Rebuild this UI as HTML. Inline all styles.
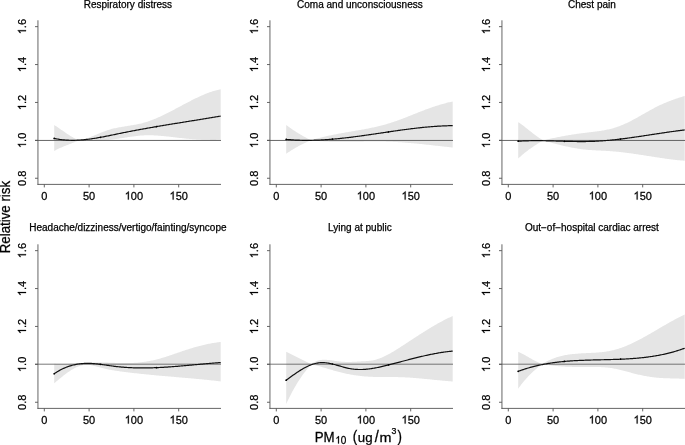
<!DOCTYPE html><html><head><meta charset="utf-8"><style>html,body{margin:0;padding:0;background:#fff;width:685px;height:445px;overflow:hidden}svg{display:block;will-change:transform}text{font-family:"Liberation Sans",sans-serif;fill:#000;stroke:#000;stroke-width:0.25px}</style></head><body>
<svg width="685" height="445" viewBox="0 0 685 445">
<rect width="685" height="445" fill="#fff"/>
<path d="M54.20,125.00 L54.20,125.00 L55.24,125.66 L56.28,126.33 L57.31,127.02 L58.35,127.72 L59.39,128.43 L60.42,129.15 L61.46,129.88 L62.50,130.60 L63.54,131.33 L64.58,132.05 L65.61,132.76 L66.65,133.47 L67.69,134.16 L68.72,134.84 L69.76,135.50 L70.80,136.14 L71.84,136.76 L72.88,137.35 L73.91,137.91 L74.95,138.44 L75.99,138.94 L77.02,139.40 L78.06,139.82 L79.10,140.20 L79.10,140.41 L80.10,140.22 L81.11,140.01 L82.11,139.78 L83.12,139.52 L84.12,139.23 L85.13,138.93 L86.13,138.61 L87.13,138.26 L88.14,137.91 L89.14,137.54 L90.15,137.15 L91.15,136.76 L92.16,136.36 L93.16,135.94 L94.16,135.53 L95.17,135.11 L96.17,134.68 L97.18,134.26 L98.18,133.83 L99.19,133.41 L100.19,132.99 L101.19,132.58 L102.20,132.18 L103.20,131.78 L104.21,131.39 L105.21,131.02 L106.21,130.66 L107.22,130.32 L108.22,129.99 L109.23,129.69 L110.23,129.39 L111.24,129.12 L112.24,128.85 L113.24,128.60 L114.25,128.36 L115.25,128.14 L116.26,127.92 L117.26,127.72 L118.27,127.52 L119.27,127.33 L120.27,127.15 L121.28,126.98 L122.28,126.81 L123.29,126.64 L124.29,126.48 L125.30,126.32 L126.30,126.16 L127.30,126.00 L128.31,125.85 L129.31,125.69 L130.32,125.53 L131.32,125.37 L132.33,125.20 L133.33,125.03 L134.33,124.85 L135.34,124.67 L136.34,124.48 L137.35,124.28 L138.35,124.07 L139.36,123.86 L140.36,123.63 L141.36,123.39 L142.37,123.14 L143.37,122.87 L144.38,122.59 L145.38,122.29 L146.39,121.99 L147.39,121.66 L148.39,121.33 L149.40,120.98 L150.40,120.62 L151.41,120.25 L152.41,119.87 L153.41,119.48 L154.42,119.07 L155.42,118.66 L156.43,118.23 L157.43,117.80 L158.44,117.36 L159.44,116.91 L160.44,116.45 L161.45,115.98 L162.45,115.51 L163.46,115.02 L164.46,114.54 L165.47,114.04 L166.47,113.54 L167.47,113.04 L168.48,112.53 L169.48,112.01 L170.49,111.50 L171.49,110.97 L172.50,110.45 L173.50,109.92 L174.50,109.39 L175.51,108.85 L176.51,108.32 L177.52,107.78 L178.52,107.25 L179.53,106.71 L180.53,106.17 L181.53,105.63 L182.54,105.10 L183.54,104.56 L184.55,104.03 L185.55,103.49 L186.56,102.96 L187.56,102.44 L188.56,101.91 L189.57,101.39 L190.57,100.88 L191.58,100.36 L192.58,99.86 L193.59,99.35 L194.59,98.86 L195.59,98.37 L196.60,97.88 L197.60,97.40 L198.61,96.93 L199.61,96.47 L200.61,96.01 L201.62,95.57 L202.62,95.13 L203.63,94.70 L204.63,94.28 L205.64,93.87 L206.64,93.47 L207.64,93.08 L208.65,92.70 L209.65,92.34 L210.66,91.99 L211.66,91.64 L212.67,91.31 L213.67,91.00 L214.67,90.70 L215.68,90.41 L216.68,90.14 L217.69,89.88 L218.69,89.63 L219.70,89.41 L220.70,89.19 L220.70,139.90 L220.70,139.79 L219.70,139.81 L218.69,139.84 L217.69,139.85 L216.68,139.87 L215.68,139.88 L214.67,139.89 L213.67,139.89 L212.67,139.89 L211.66,139.89 L210.66,139.88 L209.65,139.87 L208.65,139.85 L207.64,139.84 L206.64,139.81 L205.64,139.79 L204.63,139.76 L203.63,139.73 L202.62,139.69 L201.62,139.65 L200.61,139.61 L199.61,139.56 L198.61,139.51 L197.60,139.46 L196.60,139.40 L195.59,139.34 L194.59,139.27 L193.59,139.21 L192.58,139.13 L191.58,139.06 L190.57,138.98 L189.57,138.90 L188.56,138.81 L187.56,138.72 L186.56,138.63 L185.55,138.54 L184.55,138.44 L183.54,138.33 L182.54,138.23 L181.53,138.12 L180.53,138.01 L179.53,137.90 L178.52,137.78 L177.52,137.66 L176.51,137.55 L175.51,137.43 L174.50,137.31 L173.50,137.19 L172.50,137.07 L171.49,136.95 L170.49,136.84 L169.48,136.72 L168.48,136.61 L167.47,136.50 L166.47,136.39 L165.47,136.28 L164.46,136.18 L163.46,136.08 L162.45,135.99 L161.45,135.89 L160.44,135.81 L159.44,135.73 L158.44,135.65 L157.43,135.58 L156.43,135.52 L155.42,135.46 L154.42,135.41 L153.41,135.37 L152.41,135.33 L151.41,135.30 L150.40,135.28 L149.40,135.27 L148.39,135.27 L147.39,135.27 L146.39,135.29 L145.38,135.32 L144.38,135.35 L143.37,135.40 L142.37,135.46 L141.36,135.53 L140.36,135.61 L139.36,135.70 L138.35,135.79 L137.35,135.90 L136.34,136.01 L135.34,136.13 L134.33,136.25 L133.33,136.39 L132.33,136.52 L131.32,136.66 L130.32,136.81 L129.31,136.96 L128.31,137.11 L127.30,137.27 L126.30,137.42 L125.30,137.58 L124.29,137.74 L123.29,137.90 L122.28,138.06 L121.28,138.21 L120.27,138.37 L119.27,138.52 L118.27,138.67 L117.26,138.82 L116.26,138.97 L115.25,139.11 L114.25,139.24 L113.24,139.37 L112.24,139.49 L111.24,139.61 L110.23,139.72 L109.23,139.83 L108.22,139.93 L107.22,140.02 L106.21,140.11 L105.21,140.19 L104.21,140.27 L103.20,140.34 L102.20,140.40 L101.19,140.46 L100.19,140.51 L99.19,140.55 L98.18,140.59 L97.18,140.62 L96.17,140.65 L95.17,140.67 L94.16,140.68 L93.16,140.68 L92.16,140.68 L91.15,140.67 L90.15,140.66 L89.14,140.63 L88.14,140.60 L87.13,140.57 L86.13,140.52 L85.13,140.47 L84.12,140.41 L83.12,140.35 L82.11,140.27 L81.11,140.19 L80.10,140.10 L79.10,140.01 L79.10,140.19 L78.06,140.67 L77.02,141.14 L75.99,141.59 L74.95,142.03 L73.91,142.46 L72.88,142.87 L71.84,143.28 L70.80,143.68 L69.76,144.08 L68.72,144.48 L67.69,144.88 L66.65,145.28 L65.61,145.68 L64.58,146.09 L63.54,146.51 L62.50,146.94 L61.46,147.38 L60.42,147.84 L59.39,148.31 L58.35,148.80 L57.31,149.31 L56.28,149.85 L55.24,150.40 L54.20,150.99 Z" fill="#e5e5e5"/>
<line x1="35.00" y1="140.45" x2="221.00" y2="140.45" stroke="#555" stroke-width="0.9"/>
<line x1="37.94" y1="20.30" x2="37.94" y2="184.85" stroke="#555" stroke-width="0.9"/>
<line x1="37.50" y1="184.40" x2="221.00" y2="184.40" stroke="#555" stroke-width="0.9"/>
<line x1="35.00" y1="178.25" x2="37.94" y2="178.25" stroke="#555" stroke-width="0.9"/>
<g transform="translate(26.00 178.25) rotate(-90) scale(1 1.040)"><text x="-7.65" y="0" font-size="11">0.8</text></g>
<line x1="35.00" y1="140.35" x2="37.94" y2="140.35" stroke="#555" stroke-width="0.9"/>
<g transform="translate(26.00 140.35) rotate(-90) scale(1 1.040)"><text x="-7.65" y="0" font-size="11"> .0</text><path d="M763 0H583V1147C540 1106 483 1065 413 1024C342 983 279 952 223 931V1105C324 1152 412 1210 487 1277C562 1344 615 1409 646 1472H763V0Z" transform="translate(-7.65 0) scale(0.00537 -0.00537)" fill="#000" stroke="#000" stroke-width="46.5"/></g>
<line x1="35.00" y1="102.45" x2="37.94" y2="102.45" stroke="#555" stroke-width="0.9"/>
<g transform="translate(26.00 102.45) rotate(-90) scale(1 1.040)"><text x="-7.65" y="0" font-size="11"> .2</text><path d="M763 0H583V1147C540 1106 483 1065 413 1024C342 983 279 952 223 931V1105C324 1152 412 1210 487 1277C562 1344 615 1409 646 1472H763V0Z" transform="translate(-7.65 0) scale(0.00537 -0.00537)" fill="#000" stroke="#000" stroke-width="46.5"/></g>
<line x1="35.00" y1="64.55" x2="37.94" y2="64.55" stroke="#555" stroke-width="0.9"/>
<g transform="translate(26.00 64.55) rotate(-90) scale(1 1.040)"><text x="-7.65" y="0" font-size="11"> .4</text><path d="M763 0H583V1147C540 1106 483 1065 413 1024C342 983 279 952 223 931V1105C324 1152 412 1210 487 1277C562 1344 615 1409 646 1472H763V0Z" transform="translate(-7.65 0) scale(0.00537 -0.00537)" fill="#000" stroke="#000" stroke-width="46.5"/></g>
<line x1="35.00" y1="26.65" x2="37.94" y2="26.65" stroke="#555" stroke-width="0.9"/>
<g transform="translate(26.00 26.65) rotate(-90) scale(1 1.040)"><text x="-7.65" y="0" font-size="11"> .6</text><path d="M763 0H583V1147C540 1106 483 1065 413 1024C342 983 279 952 223 931V1105C324 1152 412 1210 487 1277C562 1344 615 1409 646 1472H763V0Z" transform="translate(-7.65 0) scale(0.00537 -0.00537)" fill="#000" stroke="#000" stroke-width="46.5"/></g>
<line x1="44.30" y1="184.40" x2="44.30" y2="187.40" stroke="#555" stroke-width="0.9"/>
<g transform="translate(44.30 199.60) scale(1 1.040)"><text x="-3.06" y="0" font-size="11">0</text></g>
<line x1="89.10" y1="184.40" x2="89.10" y2="187.40" stroke="#555" stroke-width="0.9"/>
<g transform="translate(89.10 199.60) scale(1 1.040)"><text x="-6.12" y="0" font-size="11">50</text></g>
<line x1="133.90" y1="184.40" x2="133.90" y2="187.40" stroke="#555" stroke-width="0.9"/>
<g transform="translate(133.90 199.60) scale(1 1.040)"><text x="-9.17" y="0" font-size="11"> 00</text><path d="M763 0H583V1147C540 1106 483 1065 413 1024C342 983 279 952 223 931V1105C324 1152 412 1210 487 1277C562 1344 615 1409 646 1472H763V0Z" transform="translate(-9.17 0) scale(0.00537 -0.00537)" fill="#000" stroke="#000" stroke-width="46.5"/></g>
<line x1="178.70" y1="184.40" x2="178.70" y2="187.40" stroke="#555" stroke-width="0.9"/>
<g transform="translate(178.70 199.60) scale(1 1.040)"><text x="-9.17" y="0" font-size="11"> 50</text><path d="M763 0H583V1147C540 1106 483 1065 413 1024C342 983 279 952 223 931V1105C324 1152 412 1210 487 1277C562 1344 615 1409 646 1472H763V0Z" transform="translate(-9.17 0) scale(0.00537 -0.00537)" fill="#000" stroke="#000" stroke-width="46.5"/></g>
<path d="M54.20,138.40 L54.20,138.44 L55.20,138.65 L56.21,138.85 L57.21,139.03 L58.21,139.20 L59.22,139.35 L60.22,139.49 L61.22,139.62 L62.22,139.74 L63.23,139.85 L64.23,139.94 L65.23,140.02 L66.24,140.09 L67.24,140.15 L68.24,140.20 L69.25,140.24 L70.25,140.27 L71.25,140.29 L72.25,140.29 L73.26,140.29 L74.26,140.28 L75.26,140.26 L76.27,140.23 L77.27,140.19 L78.27,140.14 L79.28,140.08 L80.28,140.02 L81.28,139.94 L82.28,139.86 L83.29,139.78 L84.29,139.68 L85.29,139.58 L86.30,139.47 L87.30,139.35 L88.30,139.23 L89.31,139.10 L90.31,138.97 L91.31,138.83 L92.31,138.68 L93.32,138.53 L94.32,138.38 L95.32,138.22 L96.33,138.05 L97.33,137.88 L98.33,137.71 L99.34,137.53 L100.34,137.35 L101.34,137.17 L102.34,136.98 L103.35,136.79 L104.35,136.59 L105.35,136.40 L106.36,136.20 L107.36,136.00 L108.36,135.80 L109.37,135.60 L110.37,135.39 L111.37,135.18 L112.37,134.98 L113.38,134.77 L114.38,134.56 L115.38,134.35 L116.39,134.15 L117.39,133.94 L118.39,133.73 L119.40,133.53 L120.40,133.32 L121.40,133.11 L122.40,132.91 L123.41,132.71 L124.41,132.51 L125.41,132.31 L126.42,132.11 L127.42,131.91 L128.42,131.72 L129.43,131.52 L130.43,131.33 L131.43,131.14 L132.43,130.94 L133.44,130.75 L134.44,130.56 L135.44,130.38 L136.45,130.19 L137.45,130.00 L138.45,129.82 L139.46,129.63 L140.46,129.45 L141.46,129.26 L142.47,129.08 L143.47,128.90 L144.47,128.72 L145.47,128.54 L146.48,128.36 L147.48,128.19 L148.48,128.01 L149.49,127.83 L150.49,127.66 L151.49,127.48 L152.50,127.31 L153.50,127.13 L154.50,126.96 L155.50,126.79 L156.51,126.62 L157.51,126.45 L158.51,126.28 L159.52,126.11 L160.52,125.94 L161.52,125.77 L162.53,125.60 L163.53,125.43 L164.53,125.27 L165.53,125.10 L166.54,124.93 L167.54,124.77 L168.54,124.60 L169.55,124.44 L170.55,124.27 L171.55,124.11 L172.56,123.94 L173.56,123.78 L174.56,123.62 L175.56,123.45 L176.57,123.29 L177.57,123.13 L178.57,122.97 L179.58,122.80 L180.58,122.64 L181.58,122.48 L182.59,122.32 L183.59,122.16 L184.59,121.99 L185.59,121.83 L186.60,121.67 L187.60,121.51 L188.60,121.35 L189.61,121.19 L190.61,121.03 L191.61,120.86 L192.62,120.70 L193.62,120.54 L194.62,120.38 L195.62,120.22 L196.63,120.06 L197.63,119.89 L198.63,119.73 L199.64,119.57 L200.64,119.41 L201.64,119.24 L202.65,119.08 L203.65,118.92 L204.65,118.75 L205.65,118.59 L206.66,118.42 L207.66,118.26 L208.66,118.10 L209.67,117.93 L210.67,117.76 L211.67,117.60 L212.68,117.43 L213.68,117.26 L214.68,117.10 L215.68,116.93 L216.69,116.76 L217.69,116.59 L218.69,116.42 L219.70,116.25 L220.70,116.08" fill="none" stroke="#111" stroke-width="1.2" stroke-linejoin="round"/>
<circle cx="54.20" cy="138.44" r="0.85" fill="#000"/>
<circle cx="100.34" cy="137.35" r="0.85" fill="#000"/>
<circle cx="156.51" cy="126.62" r="0.85" fill="#000"/>
<text x="127.90" y="7.60" font-size="10" text-anchor="middle" class="t">Respiratory distress</text>
<path d="M286.20,125.00 L286.20,125.00 L287.24,125.78 L288.27,126.54 L289.31,127.29 L290.35,128.03 L291.39,128.75 L292.43,129.47 L293.46,130.17 L294.50,130.86 L295.54,131.53 L296.57,132.20 L297.61,132.85 L298.65,133.49 L299.69,134.11 L300.73,134.73 L301.76,135.33 L302.80,135.92 L303.84,136.50 L304.88,137.07 L305.91,137.62 L306.95,138.16 L307.99,138.69 L309.03,139.20 L310.06,139.71 L311.10,140.20 L311.10,140.23 L312.10,139.93 L313.11,139.63 L314.11,139.34 L315.12,139.06 L316.12,138.78 L317.13,138.51 L318.13,138.24 L319.13,137.98 L320.14,137.72 L321.14,137.47 L322.15,137.22 L323.15,136.98 L324.16,136.74 L325.16,136.51 L326.16,136.28 L327.17,136.05 L328.17,135.83 L329.18,135.61 L330.18,135.40 L331.19,135.19 L332.19,134.98 L333.19,134.78 L334.20,134.58 L335.20,134.38 L336.21,134.19 L337.21,133.99 L338.21,133.80 L339.22,133.62 L340.22,133.43 L341.23,133.25 L342.23,133.06 L343.24,132.88 L344.24,132.70 L345.24,132.53 L346.25,132.35 L347.25,132.18 L348.26,132.00 L349.26,131.83 L350.27,131.66 L351.27,131.48 L352.27,131.31 L353.28,131.14 L354.28,130.97 L355.29,130.79 L356.29,130.62 L357.30,130.45 L358.30,130.27 L359.30,130.10 L360.31,129.92 L361.31,129.74 L362.32,129.56 L363.32,129.38 L364.33,129.20 L365.33,129.01 L366.33,128.82 L367.34,128.63 L368.34,128.44 L369.35,128.24 L370.35,128.04 L371.36,127.83 L372.36,127.62 L373.36,127.41 L374.37,127.19 L375.37,126.97 L376.38,126.74 L377.38,126.51 L378.39,126.27 L379.39,126.03 L380.39,125.78 L381.40,125.53 L382.40,125.27 L383.41,125.00 L384.41,124.73 L385.41,124.45 L386.42,124.16 L387.42,123.87 L388.43,123.57 L389.43,123.26 L390.44,122.95 L391.44,122.62 L392.44,122.29 L393.45,121.96 L394.45,121.62 L395.46,121.27 L396.46,120.91 L397.47,120.55 L398.47,120.19 L399.47,119.82 L400.48,119.45 L401.48,119.07 L402.49,118.69 L403.49,118.30 L404.50,117.92 L405.50,117.53 L406.50,117.13 L407.51,116.74 L408.51,116.34 L409.52,115.94 L410.52,115.54 L411.53,115.14 L412.53,114.74 L413.53,114.34 L414.54,113.94 L415.54,113.54 L416.55,113.14 L417.55,112.74 L418.56,112.34 L419.56,111.95 L420.56,111.55 L421.57,111.16 L422.57,110.77 L423.58,110.38 L424.58,110.00 L425.59,109.62 L426.59,109.25 L427.59,108.88 L428.60,108.51 L429.60,108.15 L430.61,107.79 L431.61,107.44 L432.61,107.09 L433.62,106.75 L434.62,106.42 L435.63,106.09 L436.63,105.76 L437.64,105.45 L438.64,105.13 L439.64,104.83 L440.65,104.53 L441.65,104.24 L442.66,103.95 L443.66,103.67 L444.67,103.40 L445.67,103.13 L446.67,102.87 L447.68,102.62 L448.68,102.37 L449.69,102.14 L450.69,101.91 L451.70,101.68 L452.70,101.47 L452.70,147.20 L452.70,147.49 L451.70,147.39 L450.69,147.29 L449.69,147.18 L448.68,147.07 L447.68,146.97 L446.67,146.86 L445.67,146.75 L444.67,146.64 L443.66,146.53 L442.66,146.42 L441.65,146.31 L440.65,146.20 L439.64,146.09 L438.64,145.98 L437.64,145.87 L436.63,145.76 L435.63,145.65 L434.62,145.53 L433.62,145.42 L432.61,145.31 L431.61,145.20 L430.61,145.09 L429.60,144.98 L428.60,144.87 L427.59,144.76 L426.59,144.65 L425.59,144.55 L424.58,144.44 L423.58,144.33 L422.57,144.23 L421.57,144.12 L420.56,144.02 L419.56,143.92 L418.56,143.82 L417.55,143.72 L416.55,143.62 L415.54,143.52 L414.54,143.43 L413.53,143.34 L412.53,143.24 L411.53,143.15 L410.52,143.06 L409.52,142.98 L408.51,142.89 L407.51,142.81 L406.50,142.73 L405.50,142.65 L404.50,142.57 L403.49,142.50 L402.49,142.42 L401.48,142.36 L400.48,142.29 L399.47,142.22 L398.47,142.16 L397.47,142.10 L396.46,142.04 L395.46,141.99 L394.45,141.94 L393.45,141.89 L392.44,141.84 L391.44,141.80 L390.44,141.76 L389.43,141.73 L388.43,141.69 L387.42,141.66 L386.42,141.64 L385.41,141.61 L384.41,141.59 L383.41,141.58 L382.40,141.56 L381.40,141.55 L380.39,141.54 L379.39,141.53 L378.39,141.52 L377.38,141.52 L376.38,141.52 L375.37,141.52 L374.37,141.52 L373.36,141.53 L372.36,141.53 L371.36,141.54 L370.35,141.55 L369.35,141.56 L368.34,141.57 L367.34,141.58 L366.33,141.59 L365.33,141.61 L364.33,141.62 L363.32,141.64 L362.32,141.65 L361.31,141.67 L360.31,141.68 L359.30,141.70 L358.30,141.71 L357.30,141.73 L356.29,141.74 L355.29,141.76 L354.28,141.77 L353.28,141.79 L352.27,141.80 L351.27,141.81 L350.27,141.82 L349.26,141.83 L348.26,141.84 L347.25,141.85 L346.25,141.86 L345.24,141.86 L344.24,141.87 L343.24,141.87 L342.23,141.87 L341.23,141.87 L340.22,141.86 L339.22,141.86 L338.21,141.85 L337.21,141.84 L336.21,141.82 L335.20,141.81 L334.20,141.79 L333.19,141.77 L332.19,141.74 L331.19,141.72 L330.18,141.69 L329.18,141.65 L328.17,141.61 L327.17,141.57 L326.16,141.53 L325.16,141.48 L324.16,141.43 L323.15,141.37 L322.15,141.31 L321.14,141.25 L320.14,141.18 L319.13,141.10 L318.13,141.03 L317.13,140.94 L316.12,140.86 L315.12,140.77 L314.11,140.67 L313.11,140.57 L312.10,140.46 L311.10,140.35 L311.10,140.20 L310.06,140.62 L309.03,141.06 L307.99,141.51 L306.95,141.97 L305.91,142.44 L304.88,142.93 L303.84,143.43 L302.80,143.93 L301.76,144.46 L300.73,144.99 L299.69,145.53 L298.65,146.09 L297.61,146.66 L296.57,147.24 L295.54,147.83 L294.50,148.43 L293.46,149.05 L292.43,149.68 L291.39,150.32 L290.35,150.97 L289.31,151.64 L288.27,152.31 L287.24,153.00 L286.20,153.70 Z" fill="#e5e5e5"/>
<line x1="267.00" y1="140.45" x2="453.00" y2="140.45" stroke="#555" stroke-width="0.9"/>
<line x1="269.94" y1="20.30" x2="269.94" y2="184.85" stroke="#555" stroke-width="0.9"/>
<line x1="269.50" y1="184.40" x2="453.00" y2="184.40" stroke="#555" stroke-width="0.9"/>
<line x1="267.00" y1="178.25" x2="269.94" y2="178.25" stroke="#555" stroke-width="0.9"/>
<g transform="translate(258.00 178.25) rotate(-90) scale(1 1.040)"><text x="-7.65" y="0" font-size="11">0.8</text></g>
<line x1="267.00" y1="140.35" x2="269.94" y2="140.35" stroke="#555" stroke-width="0.9"/>
<g transform="translate(258.00 140.35) rotate(-90) scale(1 1.040)"><text x="-7.65" y="0" font-size="11"> .0</text><path d="M763 0H583V1147C540 1106 483 1065 413 1024C342 983 279 952 223 931V1105C324 1152 412 1210 487 1277C562 1344 615 1409 646 1472H763V0Z" transform="translate(-7.65 0) scale(0.00537 -0.00537)" fill="#000" stroke="#000" stroke-width="46.5"/></g>
<line x1="267.00" y1="102.45" x2="269.94" y2="102.45" stroke="#555" stroke-width="0.9"/>
<g transform="translate(258.00 102.45) rotate(-90) scale(1 1.040)"><text x="-7.65" y="0" font-size="11"> .2</text><path d="M763 0H583V1147C540 1106 483 1065 413 1024C342 983 279 952 223 931V1105C324 1152 412 1210 487 1277C562 1344 615 1409 646 1472H763V0Z" transform="translate(-7.65 0) scale(0.00537 -0.00537)" fill="#000" stroke="#000" stroke-width="46.5"/></g>
<line x1="267.00" y1="64.55" x2="269.94" y2="64.55" stroke="#555" stroke-width="0.9"/>
<g transform="translate(258.00 64.55) rotate(-90) scale(1 1.040)"><text x="-7.65" y="0" font-size="11"> .4</text><path d="M763 0H583V1147C540 1106 483 1065 413 1024C342 983 279 952 223 931V1105C324 1152 412 1210 487 1277C562 1344 615 1409 646 1472H763V0Z" transform="translate(-7.65 0) scale(0.00537 -0.00537)" fill="#000" stroke="#000" stroke-width="46.5"/></g>
<line x1="267.00" y1="26.65" x2="269.94" y2="26.65" stroke="#555" stroke-width="0.9"/>
<g transform="translate(258.00 26.65) rotate(-90) scale(1 1.040)"><text x="-7.65" y="0" font-size="11"> .6</text><path d="M763 0H583V1147C540 1106 483 1065 413 1024C342 983 279 952 223 931V1105C324 1152 412 1210 487 1277C562 1344 615 1409 646 1472H763V0Z" transform="translate(-7.65 0) scale(0.00537 -0.00537)" fill="#000" stroke="#000" stroke-width="46.5"/></g>
<line x1="276.30" y1="184.40" x2="276.30" y2="187.40" stroke="#555" stroke-width="0.9"/>
<g transform="translate(276.30 199.60) scale(1 1.040)"><text x="-3.06" y="0" font-size="11">0</text></g>
<line x1="321.10" y1="184.40" x2="321.10" y2="187.40" stroke="#555" stroke-width="0.9"/>
<g transform="translate(321.10 199.60) scale(1 1.040)"><text x="-6.12" y="0" font-size="11">50</text></g>
<line x1="365.90" y1="184.40" x2="365.90" y2="187.40" stroke="#555" stroke-width="0.9"/>
<g transform="translate(365.90 199.60) scale(1 1.040)"><text x="-9.17" y="0" font-size="11"> 00</text><path d="M763 0H583V1147C540 1106 483 1065 413 1024C342 983 279 952 223 931V1105C324 1152 412 1210 487 1277C562 1344 615 1409 646 1472H763V0Z" transform="translate(-9.17 0) scale(0.00537 -0.00537)" fill="#000" stroke="#000" stroke-width="46.5"/></g>
<line x1="410.70" y1="184.40" x2="410.70" y2="187.40" stroke="#555" stroke-width="0.9"/>
<g transform="translate(410.70 199.60) scale(1 1.040)"><text x="-9.17" y="0" font-size="11"> 50</text><path d="M763 0H583V1147C540 1106 483 1065 413 1024C342 983 279 952 223 931V1105C324 1152 412 1210 487 1277C562 1344 615 1409 646 1472H763V0Z" transform="translate(-9.17 0) scale(0.00537 -0.00537)" fill="#000" stroke="#000" stroke-width="46.5"/></g>
<path d="M286.20,139.50 L286.20,139.38 L287.20,139.48 L288.21,139.56 L289.21,139.64 L290.21,139.72 L291.22,139.79 L292.22,139.86 L293.22,139.92 L294.22,139.98 L295.23,140.04 L296.23,140.08 L297.23,140.13 L298.24,140.17 L299.24,140.20 L300.24,140.23 L301.25,140.26 L302.25,140.28 L303.25,140.30 L304.25,140.31 L305.26,140.32 L306.26,140.32 L307.26,140.32 L308.27,140.32 L309.27,140.31 L310.27,140.30 L311.28,140.29 L312.28,140.27 L313.28,140.25 L314.28,140.22 L315.29,140.19 L316.29,140.16 L317.29,140.12 L318.30,140.08 L319.30,140.04 L320.30,139.99 L321.31,139.94 L322.31,139.89 L323.31,139.83 L324.31,139.77 L325.32,139.71 L326.32,139.64 L327.32,139.57 L328.33,139.50 L329.33,139.42 L330.33,139.35 L331.34,139.27 L332.34,139.18 L333.34,139.10 L334.34,139.01 L335.35,138.92 L336.35,138.83 L337.35,138.73 L338.36,138.63 L339.36,138.53 L340.36,138.43 L341.37,138.32 L342.37,138.22 L343.37,138.11 L344.37,138.00 L345.38,137.88 L346.38,137.77 L347.38,137.65 L348.39,137.53 L349.39,137.41 L350.39,137.29 L351.40,137.16 L352.40,137.04 L353.40,136.91 L354.40,136.78 L355.41,136.65 L356.41,136.52 L357.41,136.39 L358.42,136.25 L359.42,136.12 L360.42,135.98 L361.43,135.84 L362.43,135.71 L363.43,135.57 L364.43,135.43 L365.44,135.28 L366.44,135.14 L367.44,135.00 L368.45,134.85 L369.45,134.71 L370.45,134.56 L371.46,134.42 L372.46,134.27 L373.46,134.12 L374.47,133.98 L375.47,133.83 L376.47,133.68 L377.47,133.53 L378.48,133.38 L379.48,133.23 L380.48,133.09 L381.49,132.94 L382.49,132.79 L383.49,132.64 L384.50,132.49 L385.50,132.34 L386.50,132.19 L387.50,132.05 L388.51,131.90 L389.51,131.75 L390.51,131.60 L391.52,131.46 L392.52,131.31 L393.52,131.17 L394.53,131.02 L395.53,130.88 L396.53,130.74 L397.53,130.59 L398.54,130.45 L399.54,130.31 L400.54,130.17 L401.55,130.03 L402.55,129.90 L403.55,129.76 L404.56,129.63 L405.56,129.49 L406.56,129.36 L407.56,129.23 L408.57,129.10 L409.57,128.97 L410.57,128.85 L411.58,128.72 L412.58,128.60 L413.58,128.48 L414.59,128.36 L415.59,128.24 L416.59,128.12 L417.59,128.01 L418.60,127.90 L419.60,127.79 L420.60,127.68 L421.61,127.57 L422.61,127.47 L423.61,127.37 L424.62,127.27 L425.62,127.17 L426.62,127.08 L427.62,126.99 L428.63,126.90 L429.63,126.81 L430.63,126.73 L431.64,126.64 L432.64,126.56 L433.64,126.49 L434.65,126.42 L435.65,126.35 L436.65,126.28 L437.65,126.21 L438.66,126.15 L439.66,126.09 L440.66,126.04 L441.67,125.99 L442.67,125.94 L443.67,125.89 L444.68,125.85 L445.68,125.81 L446.68,125.78 L447.68,125.75 L448.69,125.72 L449.69,125.70 L450.69,125.68 L451.70,125.66 L452.70,125.65" fill="none" stroke="#111" stroke-width="1.2" stroke-linejoin="round"/>
<circle cx="286.20" cy="139.38" r="0.85" fill="#000"/>
<circle cx="332.34" cy="139.18" r="0.85" fill="#000"/>
<circle cx="388.51" cy="131.90" r="0.85" fill="#000"/>
<text x="359.90" y="7.60" font-size="10" text-anchor="middle" class="t">Coma and unconsciousness</text>
<path d="M518.20,122.20 L518.20,122.19 L519.24,122.87 L520.28,123.57 L521.31,124.31 L522.35,125.06 L523.39,125.83 L524.43,126.62 L525.46,127.42 L526.50,128.24 L527.54,129.06 L528.58,129.88 L529.61,130.71 L530.65,131.53 L531.69,132.35 L532.73,133.17 L533.76,133.97 L534.80,134.76 L535.84,135.54 L536.88,136.30 L537.91,137.03 L538.95,137.75 L539.99,138.43 L541.02,139.09 L542.06,139.71 L543.10,140.30 L543.10,140.39 L544.10,140.14 L545.11,139.90 L546.11,139.67 L547.12,139.43 L548.12,139.20 L549.13,138.98 L550.13,138.75 L551.13,138.53 L552.14,138.32 L553.14,138.10 L554.15,137.89 L555.15,137.68 L556.16,137.48 L557.16,137.28 L558.16,137.08 L559.17,136.88 L560.17,136.69 L561.18,136.50 L562.18,136.32 L563.19,136.13 L564.19,135.95 L565.19,135.78 L566.20,135.60 L567.20,135.43 L568.21,135.26 L569.21,135.09 L570.21,134.93 L571.22,134.77 L572.22,134.61 L573.23,134.46 L574.23,134.31 L575.24,134.16 L576.24,134.01 L577.24,133.87 L578.25,133.72 L579.25,133.59 L580.26,133.45 L581.26,133.32 L582.27,133.18 L583.27,133.06 L584.27,132.93 L585.28,132.81 L586.28,132.68 L587.29,132.56 L588.29,132.44 L589.30,132.33 L590.30,132.21 L591.30,132.09 L592.31,131.97 L593.31,131.85 L594.32,131.72 L595.32,131.59 L596.33,131.46 L597.33,131.33 L598.33,131.19 L599.34,131.04 L600.34,130.89 L601.35,130.73 L602.35,130.57 L603.36,130.40 L604.36,130.22 L605.36,130.03 L606.37,129.83 L607.37,129.62 L608.38,129.41 L609.38,129.18 L610.39,128.93 L611.39,128.68 L612.39,128.42 L613.40,128.14 L614.40,127.84 L615.41,127.53 L616.41,127.21 L617.41,126.87 L618.42,126.52 L619.42,126.15 L620.43,125.76 L621.43,125.36 L622.44,124.94 L623.44,124.51 L624.44,124.06 L625.45,123.61 L626.45,123.14 L627.46,122.66 L628.46,122.17 L629.47,121.67 L630.47,121.15 L631.47,120.64 L632.48,120.11 L633.48,119.58 L634.49,119.03 L635.49,118.49 L636.50,117.94 L637.50,117.38 L638.50,116.82 L639.51,116.26 L640.51,115.69 L641.52,115.12 L642.52,114.55 L643.53,113.98 L644.53,113.41 L645.53,112.84 L646.54,112.27 L647.54,111.71 L648.55,111.15 L649.55,110.59 L650.56,110.03 L651.56,109.48 L652.56,108.94 L653.57,108.40 L654.57,107.87 L655.58,107.34 L656.58,106.83 L657.59,106.32 L658.59,105.82 L659.59,105.33 L660.60,104.86 L661.60,104.39 L662.61,103.94 L663.61,103.49 L664.61,103.06 L665.62,102.63 L666.62,102.22 L667.63,101.81 L668.63,101.42 L669.64,101.03 L670.64,100.65 L671.64,100.28 L672.65,99.91 L673.65,99.55 L674.66,99.20 L675.66,98.86 L676.67,98.52 L677.67,98.19 L678.67,97.86 L679.68,97.53 L680.68,97.22 L681.69,96.90 L682.69,96.59 L683.70,96.28 L684.70,95.98 L684.70,160.80 L684.70,160.78 L683.70,160.70 L682.69,160.61 L681.69,160.52 L680.68,160.43 L679.68,160.33 L678.67,160.23 L677.67,160.13 L676.67,160.02 L675.66,159.91 L674.66,159.80 L673.65,159.68 L672.65,159.56 L671.64,159.43 L670.64,159.31 L669.64,159.18 L668.63,159.04 L667.63,158.91 L666.62,158.77 L665.62,158.63 L664.61,158.49 L663.61,158.35 L662.61,158.21 L661.60,158.06 L660.60,157.91 L659.59,157.76 L658.59,157.61 L657.59,157.46 L656.58,157.31 L655.58,157.15 L654.57,157.00 L653.57,156.84 L652.56,156.68 L651.56,156.53 L650.56,156.37 L649.55,156.21 L648.55,156.06 L647.54,155.90 L646.54,155.74 L645.53,155.58 L644.53,155.43 L643.53,155.27 L642.52,155.11 L641.52,154.96 L640.51,154.80 L639.51,154.65 L638.50,154.50 L637.50,154.35 L636.50,154.20 L635.49,154.05 L634.49,153.90 L633.48,153.76 L632.48,153.61 L631.47,153.47 L630.47,153.33 L629.47,153.19 L628.46,153.06 L627.46,152.93 L626.45,152.80 L625.45,152.67 L624.44,152.54 L623.44,152.42 L622.44,152.30 L621.43,152.19 L620.43,152.07 L619.42,151.96 L618.42,151.86 L617.41,151.76 L616.41,151.66 L615.41,151.56 L614.40,151.47 L613.40,151.39 L612.39,151.30 L611.39,151.23 L610.39,151.15 L609.38,151.08 L608.38,151.02 L607.37,150.96 L606.37,150.90 L605.36,150.85 L604.36,150.80 L603.36,150.75 L602.35,150.70 L601.35,150.65 L600.34,150.60 L599.34,150.56 L598.33,150.51 L597.33,150.46 L596.33,150.41 L595.32,150.36 L594.32,150.30 L593.31,150.24 L592.31,150.18 L591.30,150.12 L590.30,150.05 L589.30,149.97 L588.29,149.89 L587.29,149.80 L586.28,149.71 L585.28,149.61 L584.27,149.50 L583.27,149.38 L582.27,149.26 L581.26,149.13 L580.26,148.99 L579.25,148.85 L578.25,148.70 L577.24,148.54 L576.24,148.37 L575.24,148.20 L574.23,148.02 L573.23,147.84 L572.22,147.65 L571.22,147.46 L570.21,147.26 L569.21,147.05 L568.21,146.84 L567.20,146.62 L566.20,146.40 L565.19,146.17 L564.19,145.94 L563.19,145.71 L562.18,145.47 L561.18,145.23 L560.17,144.98 L559.17,144.73 L558.16,144.47 L557.16,144.22 L556.16,143.96 L555.15,143.69 L554.15,143.42 L553.14,143.15 L552.14,142.88 L551.13,142.61 L550.13,142.33 L549.13,142.05 L548.12,141.77 L547.12,141.49 L546.11,141.20 L545.11,140.91 L544.10,140.63 L543.10,140.34 L543.10,140.36 L542.06,141.01 L541.02,141.65 L539.99,142.30 L538.95,142.94 L537.91,143.60 L536.88,144.25 L535.84,144.92 L534.80,145.59 L533.76,146.27 L532.73,146.96 L531.69,147.66 L530.65,148.38 L529.61,149.11 L528.58,149.86 L527.54,150.63 L526.50,151.42 L525.46,152.23 L524.43,153.06 L523.39,153.91 L522.35,154.79 L521.31,155.70 L520.28,156.63 L519.24,157.59 L518.20,158.59 Z" fill="#e5e5e5"/>
<line x1="499.00" y1="140.45" x2="685.00" y2="140.45" stroke="#555" stroke-width="0.9"/>
<line x1="501.94" y1="20.30" x2="501.94" y2="184.85" stroke="#555" stroke-width="0.9"/>
<line x1="501.50" y1="184.40" x2="685.00" y2="184.40" stroke="#555" stroke-width="0.9"/>
<line x1="499.00" y1="178.25" x2="501.94" y2="178.25" stroke="#555" stroke-width="0.9"/>
<g transform="translate(490.00 178.25) rotate(-90) scale(1 1.040)"><text x="-7.65" y="0" font-size="11">0.8</text></g>
<line x1="499.00" y1="140.35" x2="501.94" y2="140.35" stroke="#555" stroke-width="0.9"/>
<g transform="translate(490.00 140.35) rotate(-90) scale(1 1.040)"><text x="-7.65" y="0" font-size="11"> .0</text><path d="M763 0H583V1147C540 1106 483 1065 413 1024C342 983 279 952 223 931V1105C324 1152 412 1210 487 1277C562 1344 615 1409 646 1472H763V0Z" transform="translate(-7.65 0) scale(0.00537 -0.00537)" fill="#000" stroke="#000" stroke-width="46.5"/></g>
<line x1="499.00" y1="102.45" x2="501.94" y2="102.45" stroke="#555" stroke-width="0.9"/>
<g transform="translate(490.00 102.45) rotate(-90) scale(1 1.040)"><text x="-7.65" y="0" font-size="11"> .2</text><path d="M763 0H583V1147C540 1106 483 1065 413 1024C342 983 279 952 223 931V1105C324 1152 412 1210 487 1277C562 1344 615 1409 646 1472H763V0Z" transform="translate(-7.65 0) scale(0.00537 -0.00537)" fill="#000" stroke="#000" stroke-width="46.5"/></g>
<line x1="499.00" y1="64.55" x2="501.94" y2="64.55" stroke="#555" stroke-width="0.9"/>
<g transform="translate(490.00 64.55) rotate(-90) scale(1 1.040)"><text x="-7.65" y="0" font-size="11"> .4</text><path d="M763 0H583V1147C540 1106 483 1065 413 1024C342 983 279 952 223 931V1105C324 1152 412 1210 487 1277C562 1344 615 1409 646 1472H763V0Z" transform="translate(-7.65 0) scale(0.00537 -0.00537)" fill="#000" stroke="#000" stroke-width="46.5"/></g>
<line x1="499.00" y1="26.65" x2="501.94" y2="26.65" stroke="#555" stroke-width="0.9"/>
<g transform="translate(490.00 26.65) rotate(-90) scale(1 1.040)"><text x="-7.65" y="0" font-size="11"> .6</text><path d="M763 0H583V1147C540 1106 483 1065 413 1024C342 983 279 952 223 931V1105C324 1152 412 1210 487 1277C562 1344 615 1409 646 1472H763V0Z" transform="translate(-7.65 0) scale(0.00537 -0.00537)" fill="#000" stroke="#000" stroke-width="46.5"/></g>
<line x1="508.30" y1="184.40" x2="508.30" y2="187.40" stroke="#555" stroke-width="0.9"/>
<g transform="translate(508.30 199.60) scale(1 1.040)"><text x="-3.06" y="0" font-size="11">0</text></g>
<line x1="553.10" y1="184.40" x2="553.10" y2="187.40" stroke="#555" stroke-width="0.9"/>
<g transform="translate(553.10 199.60) scale(1 1.040)"><text x="-6.12" y="0" font-size="11">50</text></g>
<line x1="597.90" y1="184.40" x2="597.90" y2="187.40" stroke="#555" stroke-width="0.9"/>
<g transform="translate(597.90 199.60) scale(1 1.040)"><text x="-9.17" y="0" font-size="11"> 00</text><path d="M763 0H583V1147C540 1106 483 1065 413 1024C342 983 279 952 223 931V1105C324 1152 412 1210 487 1277C562 1344 615 1409 646 1472H763V0Z" transform="translate(-9.17 0) scale(0.00537 -0.00537)" fill="#000" stroke="#000" stroke-width="46.5"/></g>
<line x1="642.70" y1="184.40" x2="642.70" y2="187.40" stroke="#555" stroke-width="0.9"/>
<g transform="translate(642.70 199.60) scale(1 1.040)"><text x="-9.17" y="0" font-size="11"> 50</text><path d="M763 0H583V1147C540 1106 483 1065 413 1024C342 983 279 952 223 931V1105C324 1152 412 1210 487 1277C562 1344 615 1409 646 1472H763V0Z" transform="translate(-9.17 0) scale(0.00537 -0.00537)" fill="#000" stroke="#000" stroke-width="46.5"/></g>
<path d="M518.20,141.30 L518.20,141.22 L519.20,141.15 L520.21,141.10 L521.21,141.04 L522.21,140.99 L523.22,140.95 L524.22,140.90 L525.22,140.87 L526.22,140.83 L527.23,140.80 L528.23,140.78 L529.23,140.75 L530.24,140.73 L531.24,140.72 L532.24,140.70 L533.25,140.69 L534.25,140.69 L535.25,140.68 L536.25,140.68 L537.26,140.68 L538.26,140.69 L539.26,140.69 L540.27,140.70 L541.27,140.71 L542.27,140.72 L543.28,140.74 L544.28,140.75 L545.28,140.77 L546.28,140.79 L547.29,140.81 L548.29,140.83 L549.29,140.86 L550.30,140.88 L551.30,140.91 L552.30,140.93 L553.31,140.96 L554.31,140.99 L555.31,141.02 L556.31,141.05 L557.32,141.07 L558.32,141.10 L559.32,141.13 L560.33,141.16 L561.33,141.19 L562.33,141.22 L563.34,141.25 L564.34,141.28 L565.34,141.30 L566.34,141.33 L567.35,141.35 L568.35,141.38 L569.35,141.40 L570.36,141.42 L571.36,141.44 L572.36,141.46 L573.37,141.48 L574.37,141.50 L575.37,141.51 L576.37,141.52 L577.38,141.53 L578.38,141.54 L579.38,141.55 L580.39,141.55 L581.39,141.55 L582.39,141.55 L583.40,141.55 L584.40,141.54 L585.40,141.53 L586.40,141.52 L587.41,141.50 L588.41,141.48 L589.41,141.46 L590.42,141.43 L591.42,141.40 L592.42,141.37 L593.43,141.33 L594.43,141.29 L595.43,141.24 L596.43,141.19 L597.44,141.14 L598.44,141.08 L599.44,141.02 L600.45,140.96 L601.45,140.89 L602.45,140.82 L603.46,140.74 L604.46,140.67 L605.46,140.58 L606.47,140.50 L607.47,140.41 L608.47,140.32 L609.47,140.23 L610.48,140.14 L611.48,140.04 L612.48,139.94 L613.49,139.83 L614.49,139.73 L615.49,139.62 L616.50,139.51 L617.50,139.39 L618.50,139.28 L619.50,139.16 L620.51,139.04 L621.51,138.92 L622.51,138.79 L623.52,138.67 L624.52,138.54 L625.52,138.41 L626.53,138.28 L627.53,138.14 L628.53,138.01 L629.53,137.87 L630.54,137.73 L631.54,137.59 L632.54,137.45 L633.55,137.31 L634.55,137.17 L635.55,137.02 L636.56,136.88 L637.56,136.73 L638.56,136.58 L639.56,136.44 L640.57,136.29 L641.57,136.14 L642.57,135.99 L643.58,135.83 L644.58,135.68 L645.58,135.53 L646.59,135.38 L647.59,135.23 L648.59,135.07 L649.59,134.92 L650.60,134.77 L651.60,134.61 L652.60,134.46 L653.61,134.30 L654.61,134.15 L655.61,134.00 L656.62,133.84 L657.62,133.69 L658.62,133.54 L659.62,133.39 L660.63,133.24 L661.63,133.09 L662.63,132.94 L663.64,132.79 L664.64,132.64 L665.64,132.49 L666.65,132.35 L667.65,132.20 L668.65,132.06 L669.65,131.91 L670.66,131.77 L671.66,131.63 L672.66,131.49 L673.67,131.35 L674.67,131.22 L675.67,131.08 L676.68,130.95 L677.68,130.82 L678.68,130.69 L679.68,130.56 L680.69,130.43 L681.69,130.31 L682.69,130.19 L683.70,130.07 L684.70,129.95" fill="none" stroke="#111" stroke-width="1.2" stroke-linejoin="round"/>
<circle cx="518.20" cy="141.22" r="0.85" fill="#000"/>
<circle cx="564.34" cy="141.28" r="0.85" fill="#000"/>
<circle cx="620.51" cy="139.04" r="0.85" fill="#000"/>
<text x="591.90" y="7.60" font-size="10" text-anchor="middle" class="t">Chest pain</text>
<path d="M54.20,363.70 L54.20,363.79 L55.20,363.86 L56.21,363.92 L57.21,363.97 L58.21,364.01 L59.22,364.04 L60.22,364.06 L61.22,364.07 L62.22,364.07 L63.23,364.06 L64.23,364.05 L65.23,364.03 L66.24,364.00 L67.24,363.97 L68.24,363.93 L69.25,363.89 L70.25,363.84 L71.25,363.79 L72.25,363.73 L73.26,363.68 L74.26,363.62 L75.26,363.55 L76.27,363.49 L77.27,363.43 L78.27,363.36 L79.28,363.30 L80.28,363.23 L81.28,363.17 L82.28,363.11 L83.29,363.05 L84.29,362.99 L85.29,362.93 L86.30,362.88 L87.30,362.83 L88.30,362.78 L89.31,362.73 L90.31,362.69 L91.31,362.65 L92.31,362.61 L93.32,362.58 L94.32,362.55 L95.32,362.52 L96.33,362.50 L97.33,362.49 L98.33,362.48 L99.34,362.47 L100.34,362.47 L101.34,362.47 L102.34,362.48 L103.35,362.50 L104.35,362.52 L105.35,362.54 L106.36,362.57 L107.36,362.60 L108.36,362.63 L109.37,362.66 L110.37,362.70 L111.37,362.73 L112.37,362.77 L113.38,362.81 L114.38,362.85 L115.38,362.89 L116.39,362.92 L117.39,362.96 L118.39,362.99 L119.40,363.02 L120.40,363.05 L121.40,363.07 L122.40,363.09 L123.41,363.11 L124.41,363.12 L125.41,363.12 L126.42,363.12 L127.42,363.12 L128.42,363.10 L129.43,363.08 L130.43,363.06 L131.43,363.02 L132.43,362.98 L133.44,362.93 L134.44,362.87 L135.44,362.81 L136.45,362.73 L137.45,362.65 L138.45,362.56 L139.46,362.46 L140.46,362.35 L141.46,362.24 L142.47,362.11 L143.47,361.98 L144.47,361.84 L145.47,361.69 L146.48,361.53 L147.48,361.37 L148.48,361.19 L149.49,361.01 L150.49,360.81 L151.49,360.61 L152.50,360.40 L153.50,360.18 L154.50,359.95 L155.50,359.72 L156.51,359.47 L157.51,359.21 L158.51,358.95 L159.52,358.67 L160.52,358.39 L161.52,358.10 L162.53,357.80 L163.53,357.50 L164.53,357.19 L165.53,356.88 L166.54,356.56 L167.54,356.23 L168.54,355.90 L169.55,355.57 L170.55,355.23 L171.55,354.89 L172.56,354.55 L173.56,354.21 L174.56,353.86 L175.56,353.52 L176.57,353.17 L177.57,352.82 L178.57,352.48 L179.58,352.13 L180.58,351.79 L181.58,351.45 L182.59,351.11 L183.59,350.77 L184.59,350.44 L185.59,350.11 L186.60,349.78 L187.60,349.46 L188.60,349.15 L189.61,348.83 L190.61,348.52 L191.61,348.22 L192.62,347.92 L193.62,347.62 L194.62,347.33 L195.62,347.05 L196.63,346.77 L197.63,346.49 L198.63,346.23 L199.64,345.96 L200.64,345.70 L201.64,345.45 L202.65,345.21 L203.65,344.97 L204.65,344.73 L205.65,344.51 L206.66,344.29 L207.66,344.07 L208.66,343.87 L209.67,343.67 L210.67,343.48 L211.67,343.29 L212.68,343.11 L213.68,342.94 L214.68,342.78 L215.68,342.63 L216.69,342.48 L217.69,342.34 L218.69,342.21 L219.70,342.09 L220.70,341.98 L220.70,381.30 L220.70,381.41 L219.70,381.29 L218.69,381.17 L217.69,381.06 L216.69,380.94 L215.68,380.83 L214.68,380.72 L213.68,380.60 L212.68,380.50 L211.67,380.39 L210.67,380.28 L209.67,380.17 L208.66,380.07 L207.66,379.97 L206.66,379.86 L205.65,379.76 L204.65,379.66 L203.65,379.56 L202.65,379.46 L201.64,379.37 L200.64,379.27 L199.64,379.17 L198.63,379.08 L197.63,378.98 L196.63,378.89 L195.62,378.80 L194.62,378.71 L193.62,378.62 L192.62,378.52 L191.61,378.43 L190.61,378.34 L189.61,378.26 L188.60,378.17 L187.60,378.08 L186.60,377.99 L185.59,377.90 L184.59,377.82 L183.59,377.73 L182.59,377.64 L181.58,377.56 L180.58,377.47 L179.58,377.39 L178.57,377.30 L177.57,377.21 L176.57,377.13 L175.56,377.04 L174.56,376.96 L173.56,376.87 L172.56,376.79 L171.55,376.70 L170.55,376.61 L169.55,376.53 L168.54,376.44 L167.54,376.36 L166.54,376.27 L165.53,376.18 L164.53,376.09 L163.53,376.01 L162.53,375.92 L161.52,375.83 L160.52,375.74 L159.52,375.65 L158.51,375.56 L157.51,375.47 L156.51,375.38 L155.50,375.29 L154.50,375.19 L153.50,375.10 L152.50,375.01 L151.49,374.91 L150.49,374.82 L149.49,374.72 L148.48,374.62 L147.48,374.52 L146.48,374.42 L145.47,374.32 L144.47,374.22 L143.47,374.12 L142.47,374.02 L141.46,373.91 L140.46,373.81 L139.46,373.70 L138.45,373.59 L137.45,373.48 L136.45,373.37 L135.44,373.26 L134.44,373.14 L133.44,373.03 L132.43,372.91 L131.43,372.80 L130.43,372.68 L129.43,372.56 L128.42,372.43 L127.42,372.31 L126.42,372.18 L125.41,372.06 L124.41,371.93 L123.41,371.80 L122.40,371.66 L121.40,371.53 L120.40,371.39 L119.40,371.26 L118.39,371.11 L117.39,370.97 L116.39,370.82 L115.38,370.67 L114.38,370.51 L113.38,370.35 L112.37,370.19 L111.37,370.01 L110.37,369.83 L109.37,369.65 L108.36,369.45 L107.36,369.25 L106.36,369.04 L105.35,368.82 L104.35,368.59 L103.35,368.35 L102.34,368.10 L101.34,367.84 L100.34,367.57 L99.34,367.29 L98.33,367.00 L97.33,366.71 L96.33,366.43 L95.32,366.15 L94.32,365.89 L93.32,365.64 L92.31,365.42 L91.31,365.22 L90.31,365.06 L89.31,364.93 L88.30,364.84 L87.30,364.80 L86.30,364.80 L85.29,364.86 L84.29,364.96 L83.29,365.11 L82.28,365.31 L81.28,365.55 L80.28,365.83 L79.28,366.16 L78.27,366.52 L77.27,366.93 L76.27,367.37 L75.26,367.85 L74.26,368.36 L73.26,368.91 L72.25,369.49 L71.25,370.10 L70.25,370.74 L69.25,371.41 L68.24,372.10 L67.24,372.81 L66.24,373.54 L65.23,374.29 L64.23,375.06 L63.23,375.84 L62.22,376.64 L61.22,377.44 L60.22,378.26 L59.22,379.08 L58.21,379.90 L57.21,380.73 L56.21,381.55 L55.20,382.38 L54.20,383.20 Z" fill="#e5e5e5"/>
<line x1="35.00" y1="364.2" x2="221.00" y2="364.2" stroke="#555" stroke-width="0.8"/>
<line x1="37.94" y1="244.30" x2="37.94" y2="408.85" stroke="#555" stroke-width="0.9"/>
<line x1="37.50" y1="408.40" x2="221.00" y2="408.40" stroke="#555" stroke-width="0.9"/>
<line x1="35.00" y1="402.25" x2="37.94" y2="402.25" stroke="#555" stroke-width="0.9"/>
<g transform="translate(26.00 402.25) rotate(-90) scale(1 1.040)"><text x="-7.65" y="0" font-size="11">0.8</text></g>
<line x1="35.00" y1="364.35" x2="37.94" y2="364.35" stroke="#555" stroke-width="0.9"/>
<g transform="translate(26.00 364.35) rotate(-90) scale(1 1.040)"><text x="-7.65" y="0" font-size="11"> .0</text><path d="M763 0H583V1147C540 1106 483 1065 413 1024C342 983 279 952 223 931V1105C324 1152 412 1210 487 1277C562 1344 615 1409 646 1472H763V0Z" transform="translate(-7.65 0) scale(0.00537 -0.00537)" fill="#000" stroke="#000" stroke-width="46.5"/></g>
<line x1="35.00" y1="326.45" x2="37.94" y2="326.45" stroke="#555" stroke-width="0.9"/>
<g transform="translate(26.00 326.45) rotate(-90) scale(1 1.040)"><text x="-7.65" y="0" font-size="11"> .2</text><path d="M763 0H583V1147C540 1106 483 1065 413 1024C342 983 279 952 223 931V1105C324 1152 412 1210 487 1277C562 1344 615 1409 646 1472H763V0Z" transform="translate(-7.65 0) scale(0.00537 -0.00537)" fill="#000" stroke="#000" stroke-width="46.5"/></g>
<line x1="35.00" y1="288.55" x2="37.94" y2="288.55" stroke="#555" stroke-width="0.9"/>
<g transform="translate(26.00 288.55) rotate(-90) scale(1 1.040)"><text x="-7.65" y="0" font-size="11"> .4</text><path d="M763 0H583V1147C540 1106 483 1065 413 1024C342 983 279 952 223 931V1105C324 1152 412 1210 487 1277C562 1344 615 1409 646 1472H763V0Z" transform="translate(-7.65 0) scale(0.00537 -0.00537)" fill="#000" stroke="#000" stroke-width="46.5"/></g>
<line x1="35.00" y1="250.65" x2="37.94" y2="250.65" stroke="#555" stroke-width="0.9"/>
<g transform="translate(26.00 250.65) rotate(-90) scale(1 1.040)"><text x="-7.65" y="0" font-size="11"> .6</text><path d="M763 0H583V1147C540 1106 483 1065 413 1024C342 983 279 952 223 931V1105C324 1152 412 1210 487 1277C562 1344 615 1409 646 1472H763V0Z" transform="translate(-7.65 0) scale(0.00537 -0.00537)" fill="#000" stroke="#000" stroke-width="46.5"/></g>
<line x1="44.30" y1="408.40" x2="44.30" y2="411.40" stroke="#555" stroke-width="0.9"/>
<g transform="translate(44.30 423.60) scale(1 1.040)"><text x="-3.06" y="0" font-size="11">0</text></g>
<line x1="89.10" y1="408.40" x2="89.10" y2="411.40" stroke="#555" stroke-width="0.9"/>
<g transform="translate(89.10 423.60) scale(1 1.040)"><text x="-6.12" y="0" font-size="11">50</text></g>
<line x1="133.90" y1="408.40" x2="133.90" y2="411.40" stroke="#555" stroke-width="0.9"/>
<g transform="translate(133.90 423.60) scale(1 1.040)"><text x="-9.17" y="0" font-size="11"> 00</text><path d="M763 0H583V1147C540 1106 483 1065 413 1024C342 983 279 952 223 931V1105C324 1152 412 1210 487 1277C562 1344 615 1409 646 1472H763V0Z" transform="translate(-9.17 0) scale(0.00537 -0.00537)" fill="#000" stroke="#000" stroke-width="46.5"/></g>
<line x1="178.70" y1="408.40" x2="178.70" y2="411.40" stroke="#555" stroke-width="0.9"/>
<g transform="translate(178.70 423.60) scale(1 1.040)"><text x="-9.17" y="0" font-size="11"> 50</text><path d="M763 0H583V1147C540 1106 483 1065 413 1024C342 983 279 952 223 931V1105C324 1152 412 1210 487 1277C562 1344 615 1409 646 1472H763V0Z" transform="translate(-9.17 0) scale(0.00537 -0.00537)" fill="#000" stroke="#000" stroke-width="46.5"/></g>
<path d="M54.20,373.40 L54.20,373.74 L55.20,373.07 L56.21,372.42 L57.21,371.80 L58.21,371.20 L59.22,370.62 L60.22,370.08 L61.22,369.55 L62.22,369.05 L63.23,368.57 L64.23,368.12 L65.23,367.69 L66.24,367.28 L67.24,366.90 L68.24,366.53 L69.25,366.19 L70.25,365.87 L71.25,365.57 L72.25,365.29 L73.26,365.03 L74.26,364.80 L75.26,364.58 L76.27,364.38 L77.27,364.20 L78.27,364.03 L79.28,363.89 L80.28,363.76 L81.28,363.65 L82.28,363.56 L83.29,363.49 L84.29,363.43 L85.29,363.39 L86.30,363.36 L87.30,363.35 L88.30,363.36 L89.31,363.38 L90.31,363.41 L91.31,363.46 L92.31,363.52 L93.32,363.59 L94.32,363.67 L95.32,363.75 L96.33,363.85 L97.33,363.96 L98.33,364.08 L99.34,364.20 L100.34,364.32 L101.34,364.46 L102.34,364.59 L103.35,364.73 L104.35,364.88 L105.35,365.02 L106.36,365.17 L107.36,365.32 L108.36,365.46 L109.37,365.61 L110.37,365.75 L111.37,365.89 L112.37,366.03 L113.38,366.17 L114.38,366.30 L115.38,366.42 L116.39,366.54 L117.39,366.65 L118.39,366.76 L119.40,366.86 L120.40,366.96 L121.40,367.05 L122.40,367.14 L123.41,367.22 L124.41,367.30 L125.41,367.37 L126.42,367.44 L127.42,367.51 L128.42,367.57 L129.43,367.62 L130.43,367.67 L131.43,367.72 L132.43,367.76 L133.44,367.80 L134.44,367.83 L135.44,367.86 L136.45,367.88 L137.45,367.90 L138.45,367.92 L139.46,367.93 L140.46,367.94 L141.46,367.95 L142.47,367.95 L143.47,367.95 L144.47,367.95 L145.47,367.94 L146.48,367.93 L147.48,367.91 L148.48,367.89 L149.49,367.87 L150.49,367.85 L151.49,367.82 L152.50,367.79 L153.50,367.76 L154.50,367.72 L155.50,367.68 L156.51,367.64 L157.51,367.60 L158.51,367.55 L159.52,367.50 L160.52,367.45 L161.52,367.40 L162.53,367.34 L163.53,367.28 L164.53,367.22 L165.53,367.16 L166.54,367.10 L167.54,367.03 L168.54,366.96 L169.55,366.89 L170.55,366.82 L171.55,366.75 L172.56,366.67 L173.56,366.60 L174.56,366.52 L175.56,366.44 L176.57,366.36 L177.57,366.28 L178.57,366.19 L179.58,366.11 L180.58,366.02 L181.58,365.94 L182.59,365.85 L183.59,365.76 L184.59,365.68 L185.59,365.59 L186.60,365.50 L187.60,365.41 L188.60,365.32 L189.61,365.22 L190.61,365.13 L191.61,365.04 L192.62,364.95 L193.62,364.86 L194.62,364.76 L195.62,364.67 L196.63,364.58 L197.63,364.49 L198.63,364.40 L199.64,364.30 L200.64,364.21 L201.64,364.12 L202.65,364.03 L203.65,363.94 L204.65,363.85 L205.65,363.76 L206.66,363.68 L207.66,363.59 L208.66,363.50 L209.67,363.42 L210.67,363.33 L211.67,363.25 L212.68,363.17 L213.68,363.09 L214.68,363.01 L215.68,362.93 L216.69,362.85 L217.69,362.78 L218.69,362.70 L219.70,362.63 L220.70,362.56" fill="none" stroke="#111" stroke-width="1.2" stroke-linejoin="round"/>
<circle cx="54.20" cy="373.74" r="0.85" fill="#000"/>
<circle cx="100.34" cy="364.32" r="0.85" fill="#000"/>
<circle cx="156.51" cy="367.64" r="0.85" fill="#000"/>
<text x="127.90" y="230.80" font-size="10" text-anchor="middle" class="t">Headache/dizziness/vertigo/fainting/syncope</text>
<path d="M286.20,351.80 L286.20,351.80 L287.20,352.31 L288.21,352.82 L289.21,353.33 L290.22,353.83 L291.22,354.34 L292.22,354.83 L293.23,355.33 L294.23,355.83 L295.24,356.32 L296.24,356.81 L297.24,357.31 L298.25,357.80 L299.25,358.30 L300.26,358.79 L301.26,359.29 L302.26,359.78 L303.27,360.28 L304.27,360.79 L305.28,361.29 L306.28,361.80 L307.28,362.31 L308.29,362.83 L309.29,363.35 L310.30,363.87 L311.30,364.40 L311.30,364.29 L312.30,363.49 L313.31,362.79 L314.31,362.17 L315.31,361.64 L316.31,361.19 L317.32,360.81 L318.32,360.50 L319.32,360.25 L320.33,360.06 L321.33,359.93 L322.33,359.84 L323.33,359.80 L324.34,359.79 L325.34,359.81 L326.34,359.86 L327.35,359.93 L328.35,360.02 L329.35,360.12 L330.35,360.23 L331.36,360.36 L332.36,360.49 L333.36,360.62 L334.37,360.77 L335.37,360.91 L336.37,361.05 L337.37,361.18 L338.38,361.32 L339.38,361.44 L340.38,361.56 L341.39,361.66 L342.39,361.75 L343.39,361.82 L344.39,361.87 L345.40,361.91 L346.40,361.94 L347.40,361.95 L348.40,361.95 L349.41,361.94 L350.41,361.92 L351.41,361.89 L352.42,361.85 L353.42,361.81 L354.42,361.76 L355.42,361.70 L356.43,361.65 L357.43,361.59 L358.43,361.53 L359.44,361.47 L360.44,361.42 L361.44,361.36 L362.44,361.31 L363.45,361.27 L364.45,361.22 L365.45,361.17 L366.46,361.11 L367.46,361.04 L368.46,360.96 L369.46,360.86 L370.47,360.74 L371.47,360.59 L372.47,360.42 L373.48,360.21 L374.48,359.98 L375.48,359.72 L376.48,359.44 L377.49,359.12 L378.49,358.79 L379.49,358.43 L380.50,358.04 L381.50,357.64 L382.50,357.21 L383.50,356.77 L384.51,356.30 L385.51,355.82 L386.51,355.32 L387.52,354.80 L388.52,354.26 L389.52,353.72 L390.52,353.16 L391.53,352.58 L392.53,352.00 L393.53,351.40 L394.54,350.79 L395.54,350.18 L396.54,349.56 L397.54,348.93 L398.55,348.29 L399.55,347.65 L400.55,347.00 L401.56,346.35 L402.56,345.70 L403.56,345.05 L404.56,344.40 L405.57,343.74 L406.57,343.09 L407.57,342.43 L408.58,341.78 L409.58,341.12 L410.58,340.46 L411.58,339.81 L412.59,339.15 L413.59,338.50 L414.59,337.84 L415.60,337.19 L416.60,336.54 L417.60,335.89 L418.60,335.24 L419.61,334.60 L420.61,333.95 L421.61,333.31 L422.61,332.68 L423.62,332.04 L424.62,331.41 L425.62,330.79 L426.63,330.16 L427.63,329.54 L428.63,328.93 L429.63,328.32 L430.64,327.71 L431.64,327.11 L432.64,326.51 L433.65,325.92 L434.65,325.33 L435.65,324.76 L436.65,324.18 L437.66,323.61 L438.66,323.05 L439.66,322.50 L440.67,321.95 L441.67,321.41 L442.67,320.88 L443.67,320.35 L444.68,319.84 L445.68,319.33 L446.68,318.83 L447.69,318.34 L448.69,317.85 L449.69,317.38 L450.69,316.91 L451.70,316.46 L452.70,316.01 L452.70,381.50 L452.70,381.45 L451.70,381.38 L450.69,381.31 L449.69,381.23 L448.69,381.16 L447.69,381.08 L446.68,381.00 L445.68,380.91 L444.68,380.83 L443.67,380.74 L442.67,380.65 L441.67,380.56 L440.67,380.46 L439.66,380.37 L438.66,380.27 L437.66,380.18 L436.65,380.08 L435.65,379.98 L434.65,379.88 L433.65,379.78 L432.64,379.68 L431.64,379.58 L430.64,379.47 L429.63,379.37 L428.63,379.27 L427.63,379.17 L426.63,379.07 L425.62,378.97 L424.62,378.88 L423.62,378.78 L422.61,378.68 L421.61,378.59 L420.61,378.49 L419.61,378.40 L418.60,378.31 L417.60,378.22 L416.60,378.14 L415.60,378.05 L414.59,377.97 L413.59,377.90 L412.59,377.82 L411.58,377.75 L410.58,377.68 L409.58,377.61 L408.58,377.55 L407.57,377.49 L406.57,377.43 L405.57,377.38 L404.56,377.33 L403.56,377.29 L402.56,377.25 L401.56,377.22 L400.55,377.19 L399.55,377.16 L398.55,377.14 L397.54,377.12 L396.54,377.11 L395.54,377.09 L394.54,377.08 L393.53,377.08 L392.53,377.07 L391.53,377.07 L390.52,377.06 L389.52,377.06 L388.52,377.06 L387.52,377.06 L386.51,377.06 L385.51,377.05 L384.51,377.05 L383.50,377.05 L382.50,377.04 L381.50,377.04 L380.50,377.03 L379.49,377.02 L378.49,377.01 L377.49,376.99 L376.48,376.97 L375.48,376.95 L374.48,376.93 L373.48,376.90 L372.47,376.86 L371.47,376.82 L370.47,376.78 L369.46,376.73 L368.46,376.67 L367.46,376.61 L366.46,376.54 L365.45,376.47 L364.45,376.39 L363.45,376.30 L362.44,376.21 L361.44,376.10 L360.44,375.99 L359.44,375.87 L358.43,375.74 L357.43,375.61 L356.43,375.47 L355.42,375.32 L354.42,375.16 L353.42,375.00 L352.42,374.83 L351.41,374.65 L350.41,374.47 L349.41,374.28 L348.40,374.08 L347.40,373.88 L346.40,373.66 L345.40,373.45 L344.39,373.23 L343.39,373.00 L342.39,372.76 L341.39,372.52 L340.38,372.28 L339.38,372.03 L338.38,371.77 L337.37,371.51 L336.37,371.24 L335.37,370.97 L334.37,370.69 L333.36,370.41 L332.36,370.12 L331.36,369.84 L330.35,369.54 L329.35,369.25 L328.35,368.95 L327.35,368.65 L326.34,368.35 L325.34,368.06 L324.34,367.76 L323.33,367.46 L322.33,367.16 L321.33,366.87 L320.33,366.57 L319.32,366.29 L318.32,366.00 L317.32,365.72 L316.31,365.44 L315.31,365.17 L314.31,364.90 L313.31,364.64 L312.30,364.39 L311.30,364.14 L311.30,364.16 L310.30,365.30 L309.29,366.46 L308.29,367.65 L307.28,368.88 L306.28,370.13 L305.28,371.42 L304.27,372.74 L303.27,374.09 L302.26,375.49 L301.26,376.92 L300.26,378.39 L299.25,379.91 L298.25,381.46 L297.24,383.07 L296.24,384.71 L295.24,386.41 L294.23,388.15 L293.23,389.95 L292.22,391.79 L291.22,393.69 L290.22,395.64 L289.21,397.65 L288.21,399.72 L287.20,401.85 L286.20,404.03 Z" fill="#e5e5e5"/>
<line x1="267.00" y1="364.2" x2="453.00" y2="364.2" stroke="#555" stroke-width="0.8"/>
<line x1="269.94" y1="244.30" x2="269.94" y2="408.85" stroke="#555" stroke-width="0.9"/>
<line x1="269.50" y1="408.40" x2="453.00" y2="408.40" stroke="#555" stroke-width="0.9"/>
<line x1="267.00" y1="402.25" x2="269.94" y2="402.25" stroke="#555" stroke-width="0.9"/>
<g transform="translate(258.00 402.25) rotate(-90) scale(1 1.040)"><text x="-7.65" y="0" font-size="11">0.8</text></g>
<line x1="267.00" y1="364.35" x2="269.94" y2="364.35" stroke="#555" stroke-width="0.9"/>
<g transform="translate(258.00 364.35) rotate(-90) scale(1 1.040)"><text x="-7.65" y="0" font-size="11"> .0</text><path d="M763 0H583V1147C540 1106 483 1065 413 1024C342 983 279 952 223 931V1105C324 1152 412 1210 487 1277C562 1344 615 1409 646 1472H763V0Z" transform="translate(-7.65 0) scale(0.00537 -0.00537)" fill="#000" stroke="#000" stroke-width="46.5"/></g>
<line x1="267.00" y1="326.45" x2="269.94" y2="326.45" stroke="#555" stroke-width="0.9"/>
<g transform="translate(258.00 326.45) rotate(-90) scale(1 1.040)"><text x="-7.65" y="0" font-size="11"> .2</text><path d="M763 0H583V1147C540 1106 483 1065 413 1024C342 983 279 952 223 931V1105C324 1152 412 1210 487 1277C562 1344 615 1409 646 1472H763V0Z" transform="translate(-7.65 0) scale(0.00537 -0.00537)" fill="#000" stroke="#000" stroke-width="46.5"/></g>
<line x1="267.00" y1="288.55" x2="269.94" y2="288.55" stroke="#555" stroke-width="0.9"/>
<g transform="translate(258.00 288.55) rotate(-90) scale(1 1.040)"><text x="-7.65" y="0" font-size="11"> .4</text><path d="M763 0H583V1147C540 1106 483 1065 413 1024C342 983 279 952 223 931V1105C324 1152 412 1210 487 1277C562 1344 615 1409 646 1472H763V0Z" transform="translate(-7.65 0) scale(0.00537 -0.00537)" fill="#000" stroke="#000" stroke-width="46.5"/></g>
<line x1="267.00" y1="250.65" x2="269.94" y2="250.65" stroke="#555" stroke-width="0.9"/>
<g transform="translate(258.00 250.65) rotate(-90) scale(1 1.040)"><text x="-7.65" y="0" font-size="11"> .6</text><path d="M763 0H583V1147C540 1106 483 1065 413 1024C342 983 279 952 223 931V1105C324 1152 412 1210 487 1277C562 1344 615 1409 646 1472H763V0Z" transform="translate(-7.65 0) scale(0.00537 -0.00537)" fill="#000" stroke="#000" stroke-width="46.5"/></g>
<line x1="276.30" y1="408.40" x2="276.30" y2="411.40" stroke="#555" stroke-width="0.9"/>
<g transform="translate(276.30 423.60) scale(1 1.040)"><text x="-3.06" y="0" font-size="11">0</text></g>
<line x1="321.10" y1="408.40" x2="321.10" y2="411.40" stroke="#555" stroke-width="0.9"/>
<g transform="translate(321.10 423.60) scale(1 1.040)"><text x="-6.12" y="0" font-size="11">50</text></g>
<line x1="365.90" y1="408.40" x2="365.90" y2="411.40" stroke="#555" stroke-width="0.9"/>
<g transform="translate(365.90 423.60) scale(1 1.040)"><text x="-9.17" y="0" font-size="11"> 00</text><path d="M763 0H583V1147C540 1106 483 1065 413 1024C342 983 279 952 223 931V1105C324 1152 412 1210 487 1277C562 1344 615 1409 646 1472H763V0Z" transform="translate(-9.17 0) scale(0.00537 -0.00537)" fill="#000" stroke="#000" stroke-width="46.5"/></g>
<line x1="410.70" y1="408.40" x2="410.70" y2="411.40" stroke="#555" stroke-width="0.9"/>
<g transform="translate(410.70 423.60) scale(1 1.040)"><text x="-9.17" y="0" font-size="11"> 50</text><path d="M763 0H583V1147C540 1106 483 1065 413 1024C342 983 279 952 223 931V1105C324 1152 412 1210 487 1277C562 1344 615 1409 646 1472H763V0Z" transform="translate(-9.17 0) scale(0.00537 -0.00537)" fill="#000" stroke="#000" stroke-width="46.5"/></g>
<path d="M286.20,380.10 L286.20,380.21 L287.20,379.48 L288.21,378.74 L289.21,378.00 L290.21,377.27 L291.22,376.54 L292.22,375.82 L293.22,375.10 L294.22,374.39 L295.23,373.69 L296.23,373.00 L297.23,372.33 L298.24,371.66 L299.24,371.01 L300.24,370.38 L301.25,369.76 L302.25,369.16 L303.25,368.57 L304.25,368.01 L305.26,367.47 L306.26,366.95 L307.26,366.45 L308.27,365.98 L309.27,365.53 L310.27,365.11 L311.28,364.72 L312.28,364.36 L313.28,364.03 L314.28,363.73 L315.29,363.47 L316.29,363.24 L317.29,363.04 L318.30,362.88 L319.30,362.76 L320.30,362.68 L321.31,362.63 L322.31,362.62 L323.31,362.64 L324.31,362.69 L325.32,362.77 L326.32,362.88 L327.32,363.02 L328.33,363.17 L329.33,363.35 L330.33,363.55 L331.34,363.77 L332.34,364.00 L333.34,364.25 L334.34,364.50 L335.35,364.77 L336.35,365.05 L337.35,365.33 L338.36,365.62 L339.36,365.91 L340.36,366.19 L341.37,366.48 L342.37,366.77 L343.37,367.05 L344.37,367.32 L345.38,367.58 L346.38,367.83 L347.38,368.07 L348.39,368.30 L349.39,368.51 L350.39,368.70 L351.40,368.86 L352.40,369.01 L353.40,369.14 L354.40,369.25 L355.41,369.34 L356.41,369.41 L357.41,369.46 L358.42,369.50 L359.42,369.52 L360.42,369.52 L361.43,369.51 L362.43,369.48 L363.43,369.43 L364.43,369.38 L365.44,369.30 L366.44,369.22 L367.44,369.12 L368.45,369.01 L369.45,368.88 L370.45,368.75 L371.46,368.60 L372.46,368.45 L373.46,368.28 L374.47,368.11 L375.47,367.92 L376.47,367.73 L377.47,367.53 L378.48,367.32 L379.48,367.10 L380.48,366.88 L381.49,366.66 L382.49,366.42 L383.49,366.19 L384.50,365.94 L385.50,365.70 L386.50,365.45 L387.50,365.20 L388.51,364.94 L389.51,364.69 L390.51,364.43 L391.52,364.17 L392.52,363.91 L393.52,363.65 L394.53,363.39 L395.53,363.12 L396.53,362.86 L397.53,362.60 L398.54,362.33 L399.54,362.07 L400.54,361.80 L401.55,361.54 L402.55,361.27 L403.55,361.01 L404.56,360.75 L405.56,360.48 L406.56,360.22 L407.56,359.96 L408.57,359.70 L409.57,359.44 L410.57,359.18 L411.58,358.92 L412.58,358.66 L413.58,358.41 L414.59,358.16 L415.59,357.91 L416.59,357.66 L417.59,357.41 L418.60,357.16 L419.60,356.92 L420.60,356.68 L421.61,356.45 L422.61,356.21 L423.61,355.98 L424.62,355.75 L425.62,355.53 L426.62,355.30 L427.62,355.08 L428.63,354.87 L429.63,354.66 L430.63,354.45 L431.64,354.25 L432.64,354.05 L433.64,353.85 L434.65,353.66 L435.65,353.47 L436.65,353.29 L437.65,353.11 L438.66,352.94 L439.66,352.77 L440.66,352.61 L441.67,352.45 L442.67,352.30 L443.67,352.15 L444.68,352.01 L445.68,351.88 L446.68,351.75 L447.68,351.62 L448.69,351.50 L449.69,351.39 L450.69,351.29 L451.70,351.19 L452.70,351.10" fill="none" stroke="#111" stroke-width="1.2" stroke-linejoin="round"/>
<circle cx="286.20" cy="380.21" r="0.85" fill="#000"/>
<circle cx="332.34" cy="364.00" r="0.85" fill="#000"/>
<circle cx="388.51" cy="364.94" r="0.85" fill="#000"/>
<text x="359.90" y="230.80" font-size="10" text-anchor="middle" class="t">Lying at public</text>
<path d="M518.20,351.70 L518.20,351.70 L519.21,352.16 L520.23,352.65 L521.24,353.16 L522.25,353.69 L523.26,354.24 L524.28,354.80 L525.29,355.37 L526.30,355.95 L527.31,356.53 L528.33,357.12 L529.34,357.71 L530.35,358.29 L531.36,358.87 L532.38,359.43 L533.39,359.99 L534.40,360.53 L535.41,361.06 L536.42,361.56 L537.44,362.04 L538.45,362.50 L539.46,362.92 L540.48,363.32 L541.49,363.68 L542.50,364.00 L542.50,363.93 L543.50,363.31 L544.50,362.71 L545.50,362.14 L546.51,361.60 L547.51,361.08 L548.51,360.58 L549.51,360.11 L550.51,359.65 L551.51,359.22 L552.51,358.81 L553.52,358.42 L554.52,358.05 L555.52,357.70 L556.52,357.37 L557.52,357.05 L558.52,356.76 L559.52,356.48 L560.53,356.21 L561.53,355.96 L562.53,355.73 L563.53,355.51 L564.53,355.31 L565.53,355.11 L566.53,354.94 L567.54,354.77 L568.54,354.61 L569.54,354.47 L570.54,354.33 L571.54,354.21 L572.54,354.09 L573.54,353.98 L574.55,353.88 L575.55,353.79 L576.55,353.71 L577.55,353.63 L578.55,353.56 L579.55,353.49 L580.55,353.42 L581.55,353.37 L582.56,353.31 L583.56,353.26 L584.56,353.21 L585.56,353.16 L586.56,353.11 L587.56,353.06 L588.56,353.02 L589.57,352.97 L590.57,352.92 L591.57,352.87 L592.57,352.82 L593.57,352.76 L594.57,352.71 L595.57,352.64 L596.58,352.58 L597.58,352.50 L598.58,352.43 L599.58,352.34 L600.58,352.25 L601.58,352.15 L602.58,352.04 L603.59,351.92 L604.59,351.80 L605.59,351.66 L606.59,351.51 L607.59,351.36 L608.59,351.18 L609.59,351.00 L610.60,350.80 L611.60,350.59 L612.60,350.37 L613.60,350.13 L614.60,349.87 L615.60,349.60 L616.60,349.32 L617.61,349.02 L618.61,348.70 L619.61,348.37 L620.61,348.03 L621.61,347.68 L622.61,347.31 L623.61,346.94 L624.62,346.55 L625.62,346.14 L626.62,345.73 L627.62,345.31 L628.62,344.87 L629.62,344.43 L630.62,343.97 L631.63,343.51 L632.63,343.04 L633.63,342.56 L634.63,342.07 L635.63,341.57 L636.63,341.06 L637.63,340.55 L638.64,340.03 L639.64,339.50 L640.64,338.97 L641.64,338.43 L642.64,337.89 L643.64,337.34 L644.64,336.78 L645.65,336.23 L646.65,335.66 L647.65,335.10 L648.65,334.52 L649.65,333.95 L650.65,333.38 L651.65,332.80 L652.65,332.22 L653.66,331.63 L654.66,331.05 L655.66,330.46 L656.66,329.88 L657.66,329.29 L658.66,328.71 L659.66,328.12 L660.67,327.54 L661.67,326.95 L662.67,326.37 L663.67,325.79 L664.67,325.21 L665.67,324.64 L666.67,324.06 L667.68,323.49 L668.68,322.93 L669.68,322.36 L670.68,321.80 L671.68,321.25 L672.68,320.70 L673.68,320.16 L674.69,319.62 L675.69,319.09 L676.69,318.56 L677.69,318.04 L678.69,317.53 L679.69,317.03 L680.69,316.53 L681.70,316.04 L682.70,315.56 L683.70,315.09 L684.70,314.62 L684.70,378.90 L684.70,378.84 L683.70,378.79 L682.70,378.75 L681.70,378.71 L680.69,378.68 L679.69,378.65 L678.69,378.62 L677.69,378.59 L676.69,378.56 L675.69,378.53 L674.69,378.51 L673.68,378.48 L672.68,378.46 L671.68,378.43 L670.68,378.40 L669.68,378.37 L668.68,378.34 L667.68,378.30 L666.67,378.27 L665.67,378.23 L664.67,378.18 L663.67,378.13 L662.67,378.08 L661.67,378.02 L660.67,377.96 L659.66,377.89 L658.66,377.81 L657.66,377.73 L656.66,377.64 L655.66,377.54 L654.66,377.43 L653.66,377.32 L652.65,377.19 L651.65,377.06 L650.65,376.92 L649.65,376.77 L648.65,376.61 L647.65,376.45 L646.65,376.28 L645.65,376.09 L644.64,375.91 L643.64,375.71 L642.64,375.51 L641.64,375.30 L640.64,375.09 L639.64,374.87 L638.64,374.64 L637.63,374.40 L636.63,374.17 L635.63,373.92 L634.63,373.67 L633.63,373.42 L632.63,373.16 L631.63,372.89 L630.62,372.62 L629.62,372.36 L628.62,372.08 L627.62,371.81 L626.62,371.54 L625.62,371.27 L624.62,371.00 L623.61,370.74 L622.61,370.48 L621.61,370.22 L620.61,369.97 L619.61,369.73 L618.61,369.49 L617.61,369.26 L616.60,369.04 L615.60,368.84 L614.60,368.64 L613.60,368.45 L612.60,368.28 L611.60,368.12 L610.60,367.98 L609.59,367.84 L608.59,367.72 L607.59,367.61 L606.59,367.50 L605.59,367.41 L604.59,367.33 L603.59,367.26 L602.58,367.19 L601.58,367.14 L600.58,367.09 L599.58,367.05 L598.58,367.01 L597.58,366.98 L596.58,366.96 L595.57,366.94 L594.57,366.93 L593.57,366.92 L592.57,366.91 L591.57,366.91 L590.57,366.91 L589.57,366.91 L588.56,366.92 L587.56,366.92 L586.56,366.93 L585.56,366.94 L584.56,366.94 L583.56,366.95 L582.56,366.95 L581.55,366.96 L580.55,366.96 L579.55,366.96 L578.55,366.95 L577.55,366.95 L576.55,366.94 L575.55,366.93 L574.55,366.92 L573.54,366.90 L572.54,366.88 L571.54,366.86 L570.54,366.83 L569.54,366.80 L568.54,366.77 L567.54,366.73 L566.53,366.69 L565.53,366.64 L564.53,366.59 L563.53,366.54 L562.53,366.47 L561.53,366.41 L560.53,366.34 L559.52,366.26 L558.52,366.18 L557.52,366.09 L556.52,366.00 L555.52,365.90 L554.52,365.79 L553.52,365.68 L552.51,365.56 L551.51,365.44 L550.51,365.31 L549.51,365.17 L548.51,365.02 L547.51,364.87 L546.51,364.71 L545.50,364.54 L544.50,364.36 L543.50,364.17 L542.50,363.98 L542.50,363.98 L541.49,364.70 L540.48,365.45 L539.46,366.21 L538.45,367.01 L537.44,367.82 L536.42,368.66 L535.41,369.52 L534.40,370.41 L533.39,371.33 L532.38,372.27 L531.36,373.24 L530.35,374.24 L529.34,375.27 L528.33,376.33 L527.31,377.42 L526.30,378.54 L525.29,379.69 L524.28,380.87 L523.26,382.09 L522.25,383.34 L521.24,384.62 L520.23,385.94 L519.21,387.30 L518.20,388.69 Z" fill="#e5e5e5"/>
<line x1="499.00" y1="364.2" x2="685.00" y2="364.2" stroke="#555" stroke-width="0.8"/>
<line x1="501.94" y1="244.30" x2="501.94" y2="408.85" stroke="#555" stroke-width="0.9"/>
<line x1="501.50" y1="408.40" x2="685.00" y2="408.40" stroke="#555" stroke-width="0.9"/>
<line x1="499.00" y1="402.25" x2="501.94" y2="402.25" stroke="#555" stroke-width="0.9"/>
<g transform="translate(490.00 402.25) rotate(-90) scale(1 1.040)"><text x="-7.65" y="0" font-size="11">0.8</text></g>
<line x1="499.00" y1="364.35" x2="501.94" y2="364.35" stroke="#555" stroke-width="0.9"/>
<g transform="translate(490.00 364.35) rotate(-90) scale(1 1.040)"><text x="-7.65" y="0" font-size="11"> .0</text><path d="M763 0H583V1147C540 1106 483 1065 413 1024C342 983 279 952 223 931V1105C324 1152 412 1210 487 1277C562 1344 615 1409 646 1472H763V0Z" transform="translate(-7.65 0) scale(0.00537 -0.00537)" fill="#000" stroke="#000" stroke-width="46.5"/></g>
<line x1="499.00" y1="326.45" x2="501.94" y2="326.45" stroke="#555" stroke-width="0.9"/>
<g transform="translate(490.00 326.45) rotate(-90) scale(1 1.040)"><text x="-7.65" y="0" font-size="11"> .2</text><path d="M763 0H583V1147C540 1106 483 1065 413 1024C342 983 279 952 223 931V1105C324 1152 412 1210 487 1277C562 1344 615 1409 646 1472H763V0Z" transform="translate(-7.65 0) scale(0.00537 -0.00537)" fill="#000" stroke="#000" stroke-width="46.5"/></g>
<line x1="499.00" y1="288.55" x2="501.94" y2="288.55" stroke="#555" stroke-width="0.9"/>
<g transform="translate(490.00 288.55) rotate(-90) scale(1 1.040)"><text x="-7.65" y="0" font-size="11"> .4</text><path d="M763 0H583V1147C540 1106 483 1065 413 1024C342 983 279 952 223 931V1105C324 1152 412 1210 487 1277C562 1344 615 1409 646 1472H763V0Z" transform="translate(-7.65 0) scale(0.00537 -0.00537)" fill="#000" stroke="#000" stroke-width="46.5"/></g>
<line x1="499.00" y1="250.65" x2="501.94" y2="250.65" stroke="#555" stroke-width="0.9"/>
<g transform="translate(490.00 250.65) rotate(-90) scale(1 1.040)"><text x="-7.65" y="0" font-size="11"> .6</text><path d="M763 0H583V1147C540 1106 483 1065 413 1024C342 983 279 952 223 931V1105C324 1152 412 1210 487 1277C562 1344 615 1409 646 1472H763V0Z" transform="translate(-7.65 0) scale(0.00537 -0.00537)" fill="#000" stroke="#000" stroke-width="46.5"/></g>
<line x1="508.30" y1="408.40" x2="508.30" y2="411.40" stroke="#555" stroke-width="0.9"/>
<g transform="translate(508.30 423.60) scale(1 1.040)"><text x="-3.06" y="0" font-size="11">0</text></g>
<line x1="553.10" y1="408.40" x2="553.10" y2="411.40" stroke="#555" stroke-width="0.9"/>
<g transform="translate(553.10 423.60) scale(1 1.040)"><text x="-6.12" y="0" font-size="11">50</text></g>
<line x1="597.90" y1="408.40" x2="597.90" y2="411.40" stroke="#555" stroke-width="0.9"/>
<g transform="translate(597.90 423.60) scale(1 1.040)"><text x="-9.17" y="0" font-size="11"> 00</text><path d="M763 0H583V1147C540 1106 483 1065 413 1024C342 983 279 952 223 931V1105C324 1152 412 1210 487 1277C562 1344 615 1409 646 1472H763V0Z" transform="translate(-9.17 0) scale(0.00537 -0.00537)" fill="#000" stroke="#000" stroke-width="46.5"/></g>
<line x1="642.70" y1="408.40" x2="642.70" y2="411.40" stroke="#555" stroke-width="0.9"/>
<g transform="translate(642.70 423.60) scale(1 1.040)"><text x="-9.17" y="0" font-size="11"> 50</text><path d="M763 0H583V1147C540 1106 483 1065 413 1024C342 983 279 952 223 931V1105C324 1152 412 1210 487 1277C562 1344 615 1409 646 1472H763V0Z" transform="translate(-9.17 0) scale(0.00537 -0.00537)" fill="#000" stroke="#000" stroke-width="46.5"/></g>
<path d="M518.20,371.40 L518.20,371.36 L519.20,370.99 L520.21,370.62 L521.21,370.27 L522.21,369.92 L523.22,369.58 L524.22,369.25 L525.22,368.93 L526.22,368.61 L527.23,368.30 L528.23,368.00 L529.23,367.71 L530.24,367.43 L531.24,367.15 L532.24,366.88 L533.25,366.62 L534.25,366.36 L535.25,366.11 L536.25,365.87 L537.26,365.63 L538.26,365.41 L539.26,365.18 L540.27,364.97 L541.27,364.76 L542.27,364.56 L543.28,364.36 L544.28,364.17 L545.28,363.98 L546.28,363.80 L547.29,363.63 L548.29,363.46 L549.29,363.30 L550.30,363.14 L551.30,362.99 L552.30,362.84 L553.31,362.70 L554.31,362.57 L555.31,362.43 L556.31,362.31 L557.32,362.18 L558.32,362.07 L559.32,361.95 L560.33,361.84 L561.33,361.74 L562.33,361.64 L563.34,361.54 L564.34,361.45 L565.34,361.36 L566.34,361.27 L567.35,361.19 L568.35,361.11 L569.35,361.04 L570.36,360.97 L571.36,360.90 L572.36,360.83 L573.37,360.77 L574.37,360.71 L575.37,360.65 L576.37,360.60 L577.38,360.54 L578.38,360.49 L579.38,360.45 L580.39,360.40 L581.39,360.36 L582.39,360.32 L583.40,360.28 L584.40,360.24 L585.40,360.20 L586.40,360.17 L587.41,360.14 L588.41,360.11 L589.41,360.08 L590.42,360.05 L591.42,360.02 L592.42,359.99 L593.43,359.96 L594.43,359.94 L595.43,359.91 L596.43,359.89 L597.44,359.87 L598.44,359.84 L599.44,359.82 L600.45,359.80 L601.45,359.77 L602.45,359.75 L603.46,359.73 L604.46,359.70 L605.46,359.68 L606.47,359.65 L607.47,359.63 L608.47,359.60 L609.47,359.58 L610.48,359.55 L611.48,359.52 L612.48,359.49 L613.49,359.46 L614.49,359.43 L615.49,359.40 L616.50,359.37 L617.50,359.33 L618.50,359.29 L619.50,359.25 L620.51,359.21 L621.51,359.17 L622.51,359.13 L623.52,359.08 L624.52,359.03 L625.52,358.98 L626.53,358.92 L627.53,358.87 L628.53,358.81 L629.53,358.75 L630.54,358.68 L631.54,358.61 L632.54,358.54 L633.55,358.47 L634.55,358.39 L635.55,358.31 L636.56,358.23 L637.56,358.14 L638.56,358.05 L639.56,357.96 L640.57,357.86 L641.57,357.75 L642.57,357.65 L643.58,357.54 L644.58,357.42 L645.58,357.30 L646.59,357.18 L647.59,357.05 L648.59,356.92 L649.59,356.78 L650.60,356.64 L651.60,356.49 L652.60,356.34 L653.61,356.18 L654.61,356.02 L655.61,355.85 L656.62,355.68 L657.62,355.50 L658.62,355.31 L659.62,355.12 L660.63,354.93 L661.63,354.72 L662.63,354.52 L663.64,354.30 L664.64,354.08 L665.64,353.85 L666.65,353.62 L667.65,353.38 L668.65,353.14 L669.65,352.88 L670.66,352.62 L671.66,352.36 L672.66,352.08 L673.67,351.80 L674.67,351.51 L675.67,351.22 L676.68,350.91 L677.68,350.60 L678.68,350.28 L679.68,349.96 L680.69,349.62 L681.69,349.28 L682.69,348.93 L683.70,348.57 L684.70,348.21" fill="none" stroke="#111" stroke-width="1.2" stroke-linejoin="round"/>
<circle cx="518.20" cy="371.36" r="0.85" fill="#000"/>
<circle cx="564.34" cy="361.45" r="0.85" fill="#000"/>
<circle cx="620.51" cy="359.21" r="0.85" fill="#000"/>
<text x="591.90" y="230.80" font-size="10" text-anchor="middle" class="t">Out&#8722;of&#8722;hospital cardiac arrest</text>
<text x="0" y="0" font-size="13.3" text-anchor="middle" transform="translate(9.8 217.1) rotate(-90) scale(1 1.04)">Relative risk</text>
<text x="0" y="0" font-size="13.3" transform="translate(314.7 441.5) scale(1 1.04)">PM</text>
<g transform="translate(340.80 443.50) scale(1 1.040)"><text x="-5.56" y="0" font-size="10"> 0</text><path d="M763 0H583V1147C540 1106 483 1065 413 1024C342 983 279 952 223 931V1105C324 1152 412 1210 487 1277C562 1344 615 1409 646 1472H763V0Z" transform="translate(-5.56 0) scale(0.00488 -0.00488)" fill="#000" stroke="#000" stroke-width="51.2"/></g>
<text x="0" y="0" font-size="13.3" transform="translate(352.7 441.5) scale(1 1.2)">(</text>
<text x="0" y="0" font-size="13.3" transform="translate(357.8 441.5) scale(1 1.0)">ug</text>
<text x="0" y="0" font-size="13.3" transform="translate(374.7 441.5) scale(1.1 1.25)">/</text>
<text x="0" y="0" font-size="13.3" transform="translate(379.4 441.5) scale(1.08 1)">m</text>
<text x="391.4" y="434.2" font-size="8.8">3</text>
<text x="0" y="0" font-size="13.3" transform="translate(397.5 441.5) scale(1 1.2)">)</text>
</svg></body></html>
